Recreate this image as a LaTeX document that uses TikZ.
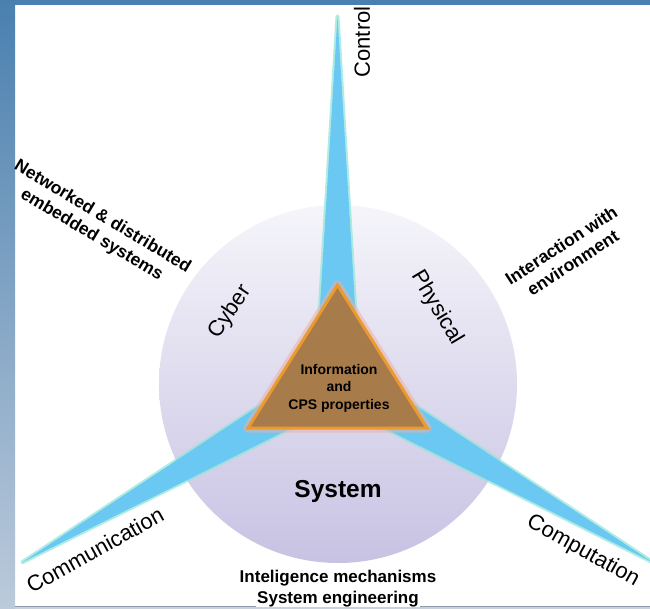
\documentclass[tikz,border=0pt]{standalone}
\usepackage{fontspec}
\setmainfont{Liberation Sans}
\usetikzlibrary{calc}

\definecolor{framedark}{HTML}{4A80AF}
\definecolor{framelight}{HTML}{BCCADB}
\definecolor{framebase}{HTML}{C8D2DE}
\definecolor{frameline}{HTML}{8C9AAA}
\definecolor{discTop}{HTML}{F5F5FA}
\definecolor{discMid}{HTML}{E3E1F0}
\definecolor{discBot}{HTML}{C8C2E3}
\definecolor{spikeBlue}{HTML}{6BC8F3}
\definecolor{spikeGlow}{HTML}{8EE6D8}
\definecolor{coreFill}{HTML}{A87C4A}
\definecolor{coreEdge}{HTML}{EC9A30}
\definecolor{coreGlow}{HTML}{E9B2A6}

\tikzset{
  spikeglow/.style={draw=spikeGlow, line width=4pt, line join=round, opacity=.7},
  spikebody/.style={fill=spikeBlue},
  corehalo/.style={draw=coreGlow, line width=9pt, line join=round, opacity=.55},
  corebody/.style={fill=coreFill, draw=coreEdge, line width=3pt, line join=miter},
  axislabel/.style={font=\fontsize{22}{24}\selectfont, text=black, inner sep=0pt},
  sidelabel/.style={font=\bfseries\fontsize{17.5}{21}\selectfont, text=black, align=center, inner sep=0pt},
  corelabel/.style={font=\bfseries\fontsize{14}{17.5}\selectfont, text=black, align=center, inner sep=0pt},
  footlabel/.style={font=\bfseries\fontsize{17}{20}\selectfont, text=black, inner sep=1pt},
}

\newcommand\drawspike[2]{% #1 = direction, #2 = style
  \path[#2] ($(G)+(#1:364)$) -- ($(G)+(#1+90:22)$) -- ($(G)+(#1-90:22)$) -- cycle;
}

\begin{document}
\begin{tikzpicture}[x=1pt,y=-1pt]
\useasboundingbox (0,0) rectangle (650,609);

% page and frame
\fill[white] (0,0) rectangle (650,609);
\shade[top color=framedark, bottom color=framelight] (0,0) rectangle (15,609);
\fill[framedark] (0,0) rectangle (650,5);
\fill[framebase] (15,606) rectangle (650,609);
\draw[frameline, line width=1pt] (15,606) -- (650,606);

% the system disc
\coordinate (O) at (338,384);
\shade[top color=discTop, middle color=discMid, bottom color=discBot] (O) circle[radius=179];

% centre of the core triangle
\coordinate (G) at (337.5,380.3);

% three spikes: control (up), communication (lower left), computation (lower right)
\foreach \a in {-90,150,30} {\drawspike{\a}{spikeglow}}
\foreach \a in {-90,150,30} {\drawspike{\a}{spikebody}}

% core triangle
\coordinate (apex) at (337.5,285);
\coordinate (bl) at (248,428);
\coordinate (br) at (427,428);
\draw[corehalo] (apex) -- (bl) -- (br) -- cycle;
\filldraw[corebody] (apex) -- (bl) -- (br) -- cycle;

\node[corelabel] (core) at (339,388) {Information\\and\\CPS properties};

% labels on the disc
\node[axislabel, rotate=56] (cyber) at (230,312) {Cyber};
\node[axislabel, rotate=-59] (physical) at (437,308) {Physical};
\node[font=\bfseries\fontsize{24.5}{28}\selectfont, inner sep=0pt] (system) at (338,491) {System};

% labels along the spikes
\node[axislabel, rotate=90] (control) at (362,42) {Control};
\node[axislabel, rotate=29] (comm) at (95,550) {Communication};
\node[axislabel, rotate=-29] (comp) at (583,551) {Computation};

% outer labels
\node[sidelabel, rotate=-31] (networked) at (97,226) {Networked \& distributed\\embedded systems};
\node[sidelabel, rotate=33] (interaction) at (567,254) {Interaction with\\environment};

\node[footlabel] (intel) at (338,578) {Inteligence mechanisms};
\node[footlabel, fill=white, inner ysep=0pt] (syseng) at (338,599) {System engineering};

\end{tikzpicture}
\end{document}
